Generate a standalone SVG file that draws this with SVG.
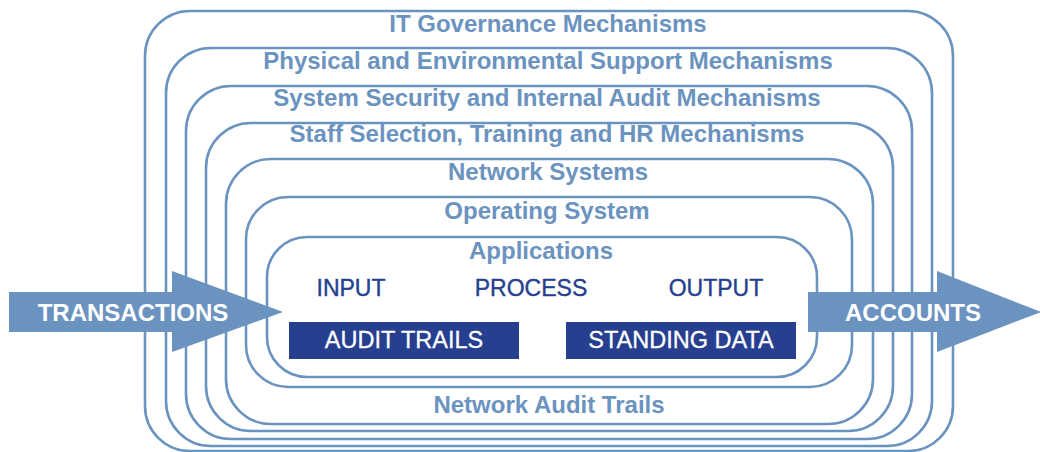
<svg xmlns="http://www.w3.org/2000/svg" width="1040" height="452" viewBox="0 0 1040 452">
<style>
.ring{fill:none;stroke:#6b93c0;stroke-width:2.6}
.lbl{font-family:"Liberation Sans",Arial,sans-serif;font-weight:bold;font-size:24px;fill:#6b93c0;text-anchor:middle}
.stage{font-family:"Liberation Sans",Arial,sans-serif;font-size:23px;fill:#263f8f;stroke:#263f8f;stroke-width:0.4;text-anchor:middle}
.box{fill:#263f8f}
.boxt{font-family:"Liberation Sans",Arial,sans-serif;font-size:23.5px;fill:#ffffff;stroke:#ffffff;stroke-width:0.3;text-anchor:middle}
.arrow{fill:#6b93c0}
.arrowt{font-family:"Liberation Sans",Arial,sans-serif;font-weight:bold;font-size:24px;fill:#ffffff;text-anchor:middle}
</style>
<rect width="1040" height="452" fill="#ffffff"/>
<g id="it-governance">
<rect class="ring" x="145" y="11" width="808" height="440" rx="45" ry="45"/>
<text class="lbl" x="548" y="32">IT Governance Mechanisms</text>
</g>
<g id="physical-environmental">
<rect class="ring" x="166" y="48" width="766" height="398" rx="45" ry="45"/>
<text class="lbl" x="548" y="69">Physical and Environmental Support Mechanisms</text>
</g>
<g id="system-security">
<rect class="ring" x="186" y="86" width="726" height="353" rx="45" ry="45"/>
<text class="lbl" x="547" y="106">System Security and Internal Audit Mechanisms</text>
</g>
<g id="staff-selection">
<rect class="ring" x="206" y="123" width="687" height="308" rx="45" ry="45"/>
<text class="lbl" x="547" y="142">Staff Selection, Training and HR Mechanisms</text>
</g>
<g id="network-systems">
<rect class="ring" x="226" y="159" width="647" height="265" rx="45" ry="45"/>
<text class="lbl" x="548" y="180">Network Systems</text>
<text class="lbl" x="549" y="413">Network Audit Trails</text>
</g>
<g id="operating-system">
<rect class="ring" x="246" y="197" width="606" height="190" rx="42" ry="42"/>
<text class="lbl" x="547" y="219">Operating System</text>
</g>
<g id="applications">
<rect class="ring" x="267" y="237" width="550" height="140" rx="40" ry="40"/>
<text class="lbl" x="541" y="259">Applications</text>
<text class="stage" x="351" y="296">INPUT</text>
<text class="stage" x="531" y="296">PROCESS</text>
<text class="stage" x="716" y="296">OUTPUT</text>
</g>
<g id="audit-trails">
<rect class="box" x="289" y="322" width="230" height="37"/>
<text class="boxt" x="404" y="348">AUDIT TRAILS</text>
</g>
<g id="standing-data">
<rect class="box" x="566" y="322" width="230" height="37"/>
<text class="boxt" x="681" y="348">STANDING DATA</text>
</g>
<g id="connectors">
<g id="transactions">
<polygon class="arrow" points="9,292 172,292 172,271 283,312 172,352 172,332 9,332"/>
<text class="arrowt" x="133" y="321">TRANSACTIONS</text>
</g>
<g id="accounts">
<polygon class="arrow" points="808,292 937,292 937,271 1041,312 937,352 937,332 808,332"/>
<text class="arrowt" x="913" y="321">ACCOUNTS</text>
</g>
</g>
</svg>
